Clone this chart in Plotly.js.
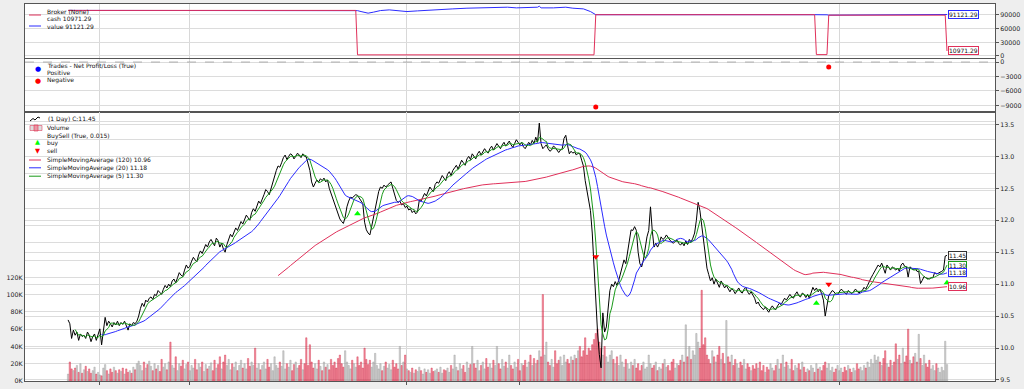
<!DOCTYPE html>
<html><head><meta charset="utf-8">
<script src="https://cdn.plot.ly/plotly-3.0.1.min.js"></script>
<style>html,body{margin:0;padding:0;background:#eeeeee;}#chart{width:1024px;height:389px;}</style>
</head><body><div id="chart"></div>
<script>
// ---------- DATA ----------
const closes = [
10.44,10.38,10.15,10.28,10.20,10.25,10.12,10.22,10.18,10.20,
10.15,10.25,10.20,10.10,10.18,10.22,10.12,10.20,10.30,10.05,
10.30,10.48,10.35,10.42,10.38,10.33,10.40,10.36,10.42,10.35,
10.40,10.37,10.42,10.36,10.28,10.38,10.35,10.40,10.38,10.42,
10.50,10.62,10.70,10.65,10.75,10.72,10.78,10.80,10.76,10.84,
10.82,10.90,10.86,10.84,10.92,10.98,10.94,11.00,10.96,11.05,
11.08,11.02,11.10,11.18,11.14,11.12,11.22,11.30,11.25,11.28,
11.36,11.42,11.38,11.35,11.46,11.52,11.48,11.56,11.62,11.58,
11.66,11.70,11.64,11.60,11.72,11.68,11.58,11.64,11.55,11.50,
11.62,11.70,11.78,11.74,11.82,11.88,11.84,11.92,11.98,11.94,
12.02,12.08,12.04,12.00,12.12,12.18,12.14,12.24,12.30,12.26,
12.35,12.40,12.48,12.45,12.40,12.50,12.62,12.70,12.78,12.85,
12.83,12.90,12.98,13.02,12.95,13.00,13.04,13.02,12.96,13.00,
13.05,13.02,12.98,13.04,13.00,12.99,12.90,12.78,12.60,12.52,
12.58,12.63,12.60,12.65,12.62,12.66,12.60,12.63,12.50,12.42,
12.35,12.25,12.16,12.10,12.02,11.98,11.95,12.05,12.21,12.30,
12.36,12.35,12.38,12.40,12.39,12.35,12.30,12.26,11.97,11.85,
11.80,11.77,11.90,12.05,12.20,12.35,12.45,12.52,12.50,12.55,
12.52,12.55,12.58,12.60,12.50,12.40,12.31,12.28,12.30,12.24,
12.26,12.20,12.22,12.16,12.18,12.12,12.15,12.10,12.13,12.31,
12.30,12.36,12.42,12.38,12.46,12.52,12.48,12.45,12.56,12.60,
12.58,12.64,12.70,12.66,12.62,12.72,12.76,12.70,12.78,12.82,
12.86,12.80,12.88,12.94,12.90,12.86,12.96,13.00,12.95,13.04,
13.00,12.96,13.04,13.08,13.02,13.06,13.12,13.08,13.05,13.12,
13.16,13.10,13.14,13.20,13.16,13.12,13.18,13.22,13.16,13.20,
13.24,13.18,13.14,13.20,13.26,13.22,13.18,13.22,13.15,13.12,
13.17,13.22,13.18,13.25,13.20,13.30,13.22,13.52,13.20,13.12,
13.15,13.18,13.12,13.08,13.10,13.16,13.14,13.10,13.06,13.10,
13.12,13.28,13.33,13.17,13.04,13.08,13.05,13.07,13.02,13.05,
13.04,12.94,12.85,12.62,12.47,12.36,12.15,11.80,11.25,10.72,
10.25,9.90,9.69,10.55,10.25,10.33,10.65,10.90,11.00,10.96,
11.04,10.98,11.06,11.17,11.28,11.38,11.32,11.50,11.68,11.85,
11.84,11.90,11.84,11.50,11.32,11.27,11.38,11.58,11.74,11.84,
12.21,11.84,11.58,11.64,11.58,11.64,11.74,11.70,11.72,11.77,
11.72,11.69,11.66,11.64,11.67,11.69,11.64,11.61,11.65,11.60,
11.68,11.62,11.70,11.66,11.72,11.80,12.00,12.28,12.15,11.90,
11.65,11.40,11.25,11.15,11.05,11.10,11.00,11.08,11.02,10.95,
11.05,10.98,10.94,10.98,10.92,10.88,10.93,10.90,10.85,10.90,
10.94,10.88,10.86,10.92,10.95,10.88,10.84,10.88,10.82,10.78,
10.69,10.72,10.66,10.62,10.60,10.64,10.59,10.56,10.62,10.66,
10.62,10.60,10.66,10.70,10.68,10.74,10.78,10.75,10.80,10.84,
10.80,10.78,10.84,10.88,10.82,10.80,10.86,10.84,10.79,10.84,
10.78,10.88,10.95,10.90,10.94,10.88,10.92,10.85,10.75,10.50,
10.70,10.82,10.86,10.90,10.88,10.84,10.84,10.88,10.92,10.90,
10.86,10.84,10.90,10.88,10.85,10.88,10.92,10.90,10.86,10.88,
10.90,10.95,10.92,10.98,11.05,11.10,11.15,11.20,11.25,11.30,
11.27,11.33,11.25,11.17,11.30,11.26,11.22,11.27,11.24,11.22,
11.25,11.20,11.30,11.33,11.28,11.27,11.11,11.27,11.25,11.22,
11.25,11.20,11.20,11.01,11.06,11.12,11.10,11.09,11.08,11.10,
11.10,11.18,11.16,11.17,11.18,11.20,11.22,11.44,11.45];

const volumesK = [
8,22,14,12,15,18,10,20,9,13, 17,11,14,9,12,16,8,10,7,6,
15,19,12,8,14,10,16,12,9,13, 11,15,8,14,10,12,9,16,13,20,
23,18,12,22,15,19,23,17,12,20, 14,18,11,25,16,20,13,22,45,18,
15,28,12,20,17,24,14,19,22,12, 18,15,25,13,20,16,22,11,19,14,
17,21,12,24,15,19,28,14,22,30, 18,25,13,20,16,22,12,18,24,15,
20,14,26,17,22,18,38,15,20,13, 18,22,14,25,16,20,12,28,18,15,
22,17,35,14,20,16,24,12,19,22, 15,18,25,13,20,50,18,42,22,15,
20,14,24,17,12,22,16,19,13,25, 18,22,15,26,30,20,16,35,22,18,
14,24,20,16,28,18,22,15,38,25, 19,24,16,22,32,18,14,20,12,17,
22,15,19,13,24,16,20,14,40,18, 22,30,14,12,10,15,9,13,11,16,
12,8,14,10,13,9,15,11,12,14, 10,16,9,13,12,15,10,18,14,30,
16,12,20,14,18,10,22,15,19,40, 20,15,24,12,18,22,14,26,16,20,
15,24,18,40,20,14,25,17,22,15, 30,18,14,22,16,25,12,20,18,24,
16,22,30,18,26,20,24,35,28,100, 30,45,22,18,25,16,35,20,24,28,
18,30,22,25,20,28,24,30,26,35, 40,28,35,50,30,38,35,42,48,55,
60,45,38,30,40,28,22,30,35,25, 20,28,18,30,22,16,25,20,14,22,
18,25,15,20,12,18,22,14,16,30, 20,15,18,22,12,16,14,20,25,16,
18,12,22,25,15,20,18,24,30,22, 65,28,40,25,35,30,55,45,38,105,
42,50,30,25,20,35,28,22,30,40, 25,32,20,70,28,22,30,18,25,20,
15,22,18,25,14,20,16,12,18,14, 20,15,22,12,18,10,16,13,20,15,
12,18,25,14,20,30,16,22,18,14, 25,12,18,15,20,13,22,16,10,14,
12,18,15,10,20,14,16,12,18,22, 15,20,12,16,10,14,18,12,15,10,
16,12,18,14,10,15,12,20,14,16, 12,18,15,22,16,25,20,30,24,28,
22,18,26,35,20,16,24,18,22,43, 25,30,20,38,22,29,60,24,20,28,
32,22,54,26,18,30,20,16,24,14, 18,12,20,15,10,16,12,46,19];

const buyIdx = [164, 424, 498];
const buyPrice = [12.10, 10.70, 11.02];
const sellIdx = [299, 431];
const sellPrice = [11.43, 11.00];

const tradeIdx = [299, 431];
const tradePnl = [-9375, -1040];

const cashIdx = [0, 163, 164, 298, 299, 423, 424, 430, 431, 497, 498];
const cashVal = [100000, 100000, 2500, 2500, 90625, 90625, 3000, 3000, 89585, 89585, 10971.29];

const valueIdx = [0,163,164,166,170,173,177,182,188,192,198,203,211,218,226,233,241,249,254,260,266,267,268,275,282,286,292,296,298,299,423,424,427,429,430,431,497,498];
const valueVal = [100000,100000,99500,97500,94000,96200,99700,101200,99000,97500,99000,99700,101200,103400,104900,105600,107100,107100,105600,106300,107100,109300,105600,105600,107100,104900,103400,97500,92000,90625,90625,90700,90800,90200,90400,89585,89585,91121.29];

const gridIdx = [18, 69, 192, 256, 437];
const volTicks = [0,20000,40000,60000,80000,100000,120000,140000,160000,180000,200000,220000,240000,260000,280000,300000];
const volTickText = ['0K','20K','40K','60K','80K','100K','120K','','','','','','','','',''];
const priceTicks = [9.5,10.0,10.5,11.0,11.5,12.0,12.5,13.0,13.5];
const priceTickText = ['9.5','10.0','10.5','11.0','11.5','12.0','12.5','13.0','13.5'];

// ---------- DERIVED ----------
const N = closes.length;
const idx = closes.map((_, i) => i);
const volumes = volumesK.map(v => v * 1000);
function sma(arr, p) {
  return arr.map((_, i) => i < p - 1 ? null : arr.slice(i - p + 1, i + 1).reduce((a, b) => a + b, 0) / p);
}
const sma120 = sma(closes, 120), sma20 = sma(closes, 20), sma5 = sma(closes, 5);
const volFill = closes.map((c, i) => (i === 0 || c >= closes[i - 1]) ? 'rgba(175,175,175,0.55)' : 'rgba(230,40,70,0.5)');
const volLine = closes.map((c, i) => (i === 0 || c >= closes[i - 1]) ? 'rgba(150,150,150,0.8)' : 'rgba(210,30,60,0.75)');

const FONT = 'DejaVu Sans';
const CRIMSON = '#e0305a';
const BLUE = '#2b2bff';
const GREEN = '#1a9a1a';

// pixel helpers (plot area x 25..995, y 4..381)
const PX = p => (p - 25) / 970;
const PY = p => (381 - p) / 377;

const traces = [
  {x: valueIdx, y: valueVal, xaxis: 'x', yaxis: 'y', mode: 'lines', line: {color: BLUE, width: 1}},
  {x: cashIdx, y: cashVal, xaxis: 'x', yaxis: 'y', mode: 'lines', line: {color: CRIMSON, width: 1}},
  {x: tradeIdx, y: tradePnl, xaxis: 'x2', yaxis: 'y2', mode: 'markers',
   marker: {color: tradePnl.map(v => v >= 0 ? 'blue' : 'red'), size: 5}},
  {x: idx, y: volumes, type: 'bar', xaxis: 'x3', yaxis: 'y3', width: 0.75,
   marker: {color: volFill, line: {color: volLine, width: 0.5}}},
  {x: idx, y: closes, xaxis: 'x3', yaxis: 'y4', mode: 'lines', line: {color: '#000', width: 1}},
  {x: idx, y: sma120, xaxis: 'x3', yaxis: 'y4', mode: 'lines', line: {color: CRIMSON, width: 1}},
  {x: idx, y: sma20, xaxis: 'x3', yaxis: 'y4', mode: 'lines', line: {color: BLUE, width: 1}},
  {x: idx, y: sma5, xaxis: 'x3', yaxis: 'y4', mode: 'lines', line: {color: GREEN, width: 1}},
  {x: buyIdx, y: buyPrice, xaxis: 'x3', yaxis: 'y4', mode: 'markers', marker: {symbol: 'triangle-up', color: '#00ff00', size: 6}},
  {x: sellIdx, y: sellPrice, xaxis: 'x3', yaxis: 'y4', mode: 'markers', marker: {symbol: 'triangle-down', color: '#ff0000', size: 6}}
].map(t => Object.assign({showlegend: false, hoverinfo: 'skip'}, t));

const xBase = {range: [-24.4, 525.2], tickvals: gridIdx, showticklabels: false, showgrid: true,
  gridcolor: '#d8d8d8', gridwidth: 1, showline: true, mirror: true, linecolor: '#555', linewidth: 1,
  zeroline: false, ticks: '', fixedrange: true};
const yBase = {showgrid: true, gridcolor: '#dcdcdc', gridwidth: 1, showline: true, mirror: true,
  linecolor: '#555', linewidth: 1, zeroline: false, ticks: 'outside', ticklen: 3, tickcolor: '#555',
  tickfont: {family: FONT, size: 6.3, color: '#222'}, fixedrange: true};

const annotations = [];
function txt(x, y, s, extra) {
  annotations.push(Object.assign({xref: 'paper', yref: 'paper', x: PX(x), y: PY(y), text: s, showarrow: false,
    xanchor: 'left', yanchor: 'middle', font: {family: FONT, size: 6, color: '#111'}}, extra || {}));
}
// legend texts
txt(45, 11.7, 'Broker (None)'); txt(45, 18.3, 'cash 10971.29'); txt(45, 26.3, 'value 91121.29');
txt(45, 65.3, 'Trades - Net Profit/Loss (True)'); txt(45, 72.3, 'Positive'); txt(45, 80.3, 'Negative');
txt(46, 118.7, '(1 Day) C:11.45'); txt(45, 128, 'Volume'); txt(45, 135.7, 'BuySell (True, 0.015)');
txt(45, 142.7, 'buy'); txt(45, 150.7, 'sell');
txt(45, 159.7, 'SimpleMovingAverage (120) 10.96'); txt(45, 167.7, 'SimpleMovingAverage (20) 11.18');
txt(45, 176, 'SimpleMovingAverage (5) 11.30');
// legend marker glyphs
txt(32.5, 69.5, '●', {font: {family: FONT, size: 7, color: 'blue'}});
txt(32.5, 80.7, '●', {font: {family: FONT, size: 7, color: 'red'}});
txt(32.5, 141.5, '▲', {font: {family: FONT, size: 6.5, color: '#00ff00'}});
txt(32.5, 151, '▼', {font: {family: FONT, size: 6.5, color: '#ff0000'}});

// value tags on the right
function tag(xr, yr, yv, s, col) {
  annotations.push({xref: xr, yref: yr, x: N - 1, y: yv, text: s, showarrow: false, xanchor: 'left', yanchor: 'middle',
    xshift: 1, height: 6.5, bgcolor: '#ffffff', bordercolor: col, borderwidth: 1, borderpad: 0,
    font: {family: FONT, size: 6, color: '#111'}});
}
tag('x', 'y', 91121.29, '91121.29', BLUE);
tag('x', 'y', 10971.29, '10971.29', CRIMSON);
tag('x3', 'y4', closes[N - 1], closes[N - 1].toFixed(2), '#333');
tag('x3', 'y4', sma5[N - 1], sma5[N - 1].toFixed(2), GREEN);
tag('x3', 'y4', sma20[N - 1], sma20[N - 1].toFixed(2), BLUE);
tag('x3', 'y4', sma120[N - 1], sma120[N - 1].toFixed(2), CRIMSON);

const shapes = [
  {type: 'line', xref: 'paper', yref: 'y2', x0: 0, x1: 1, y0: 0, y1: 0, line: {color: '#888', width: 0.6, dash: 'dash'}},
];
function lineSym(y, col) {
  shapes.push({type: 'line', xref: 'paper', yref: 'paper', x0: PX(29), x1: PX(41), y0: PY(y), y1: PY(y), line: {color: col, width: 1}});
}
lineSym(15, CRIMSON); lineSym(26, BLUE);
lineSym(160, CRIMSON); lineSym(167.8, BLUE); lineSym(176.2, GREEN);
// price squiggle icon
shapes.push({type: 'path', xref: 'paper', yref: 'paper',
  path: `M ${PX(30)} ${PY(121)} L ${PX(33)} ${PY(118.5)} L ${PX(35)} ${PY(120)} L ${PX(38)} ${PY(117)} L ${PX(40)} ${PY(118)}`,
  line: {color: '#000', width: 1}});
// volume icon
shapes.push({type: 'rect', xref: 'paper', yref: 'paper', x0: PX(30), x1: PX(42), y0: PY(130.5), y1: PY(125.5),
  line: {color: 'rgba(220,60,90,0.7)', width: 0.8}, fillcolor: 'rgba(200,200,200,0.6)'});
shapes.push({type: 'rect', xref: 'paper', yref: 'paper', x0: PX(34), x1: PX(38), y0: PY(131), y1: PY(125),
  line: {color: 'rgba(220,60,90,0.8)', width: 0.8}, fillcolor: 'rgba(240,120,140,0.7)'});

const layout = {
  width: 1024, height: 389,
  margin: {l: 25, r: 29, t: 4, b: 8},
  paper_bgcolor: '#eeeeee', plot_bgcolor: '#ffffff',
  showlegend: false, bargap: 0,
  font: {family: FONT, size: 6},
  xaxis: Object.assign({}, xBase, {anchor: 'y'}),
  xaxis2: Object.assign({}, xBase, {anchor: 'y2', matches: 'x'}),
  xaxis3: Object.assign({}, xBase, {anchor: 'y3', matches: 'x', ticks: 'outside', ticklen: 3, tickcolor: '#555'}),
  yaxis: Object.assign({}, yBase, {domain: [0.8568, 1], range: [-4390, 114100], side: 'right', anchor: 'x',
    tickvals: [0, 30000, 60000, 90000], tickformat: 'd'}),
  yaxis2: Object.assign({}, yBase, {domain: [0.7135, 0.8541], range: [-10395, 624], side: 'right', anchor: 'x2',
    tickvals: [0, -3000, -6000, -9000], tickformat: 'd'}),
  yaxis3: Object.assign({}, yBase, {domain: [0, 0.7135], range: [0, 311300], side: 'left', anchor: 'x3',
    tickvals: volTicks, ticktext: volTickText, ticks: ''}),
  yaxis4: Object.assign({}, yBase, {overlaying: 'y3', range: [9.484, 13.694], side: 'right', anchor: 'x3',
    tickvals: priceTicks, ticktext: priceTickText}),
  shapes: shapes,
  annotations: annotations
};

Plotly.newPlot('chart', traces, layout, {staticPlot: true, displayModeBar: false});
</script></body></html>
